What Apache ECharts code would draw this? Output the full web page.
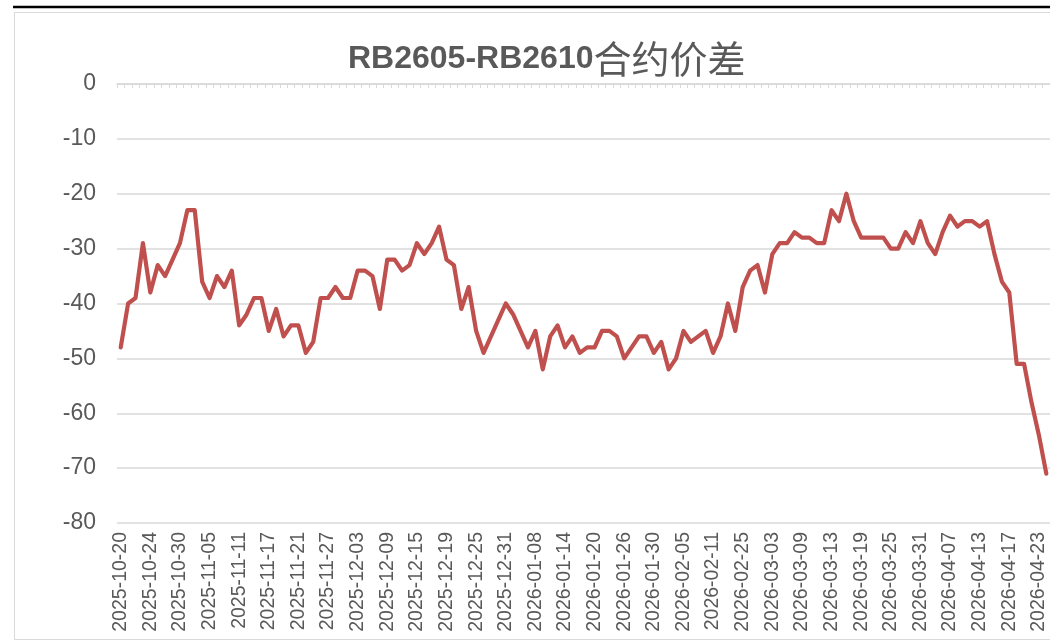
<!DOCTYPE html>
<html>
<head>
<meta charset="utf-8">
<script src="https://cdn.jsdelivr.net/npm/echarts@6/dist/echarts.min.js"></script>
<style>
html,body{margin:0;padding:0;background:#fff;}
#main{width:1050px;height:642px;}
</style>
</head>
<body>
<div id="main"></div>
<script>
const titleLatin = 'RB2605-RB2610';
const titleCJK = '合约价差';

const dates = [
'2025-10-20','2025-10-21','2025-10-22','2025-10-23','2025-10-24','2025-10-27','2025-10-28','2025-10-29','2025-10-30','2025-10-31',
'2025-11-03','2025-11-04','2025-11-05','2025-11-06','2025-11-07','2025-11-10','2025-11-11','2025-11-12','2025-11-13','2025-11-14',
'2025-11-17','2025-11-18','2025-11-19','2025-11-20','2025-11-21','2025-11-24','2025-11-25','2025-11-26','2025-11-27','2025-11-28',
'2025-12-01','2025-12-02','2025-12-03','2025-12-04','2025-12-05','2025-12-08','2025-12-09','2025-12-10','2025-12-11','2025-12-12',
'2025-12-15','2025-12-16','2025-12-17','2025-12-18','2025-12-19','2025-12-22','2025-12-23','2025-12-24','2025-12-25','2025-12-26',
'2025-12-29','2025-12-30','2025-12-31','2026-01-05','2026-01-06','2026-01-07','2026-01-08','2026-01-09','2026-01-12','2026-01-13',
'2026-01-14','2026-01-15','2026-01-16','2026-01-19','2026-01-20','2026-01-21','2026-01-22','2026-01-23','2026-01-26','2026-01-27',
'2026-01-28','2026-01-29','2026-01-30','2026-02-02','2026-02-03','2026-02-04','2026-02-05','2026-02-06','2026-02-09','2026-02-10',
'2026-02-11','2026-02-12','2026-02-13','2026-02-24','2026-02-25','2026-02-26','2026-02-27','2026-03-02','2026-03-03','2026-03-04',
'2026-03-05','2026-03-06','2026-03-09','2026-03-10','2026-03-11','2026-03-12','2026-03-13','2026-03-16','2026-03-17','2026-03-18',
'2026-03-19','2026-03-20','2026-03-23','2026-03-24','2026-03-25','2026-03-26','2026-03-27','2026-03-30','2026-03-31','2026-04-01',
'2026-04-02','2026-04-03','2026-04-07','2026-04-08','2026-04-09','2026-04-10','2026-04-13','2026-04-14','2026-04-15','2026-04-16',
'2026-04-17','2026-04-20','2026-04-21','2026-04-22','2026-04-23','2026-04-24'
];

const spread = [
-48,-40,-39,-29,-38,-33,-35,-32,-29,-23,
-23,-36,-39,-35,-37,-34,-44,-42,-39,-39,
-45,-41,-46,-44,-44,-49,-47,-39,-39,-37,
-39,-39,-34,-34,-35,-41,-32,-32,-34,-33,
-29,-31,-29,-26,-32,-33,-41,-37,-45,-49,
-46,-43,-40,-42,-45,-48,-45,-52,-46,-44,
-48,-46,-49,-48,-48,-45,-45,-46,-50,-48,
-46,-46,-49,-47,-52,-50,-45,-47,-46,-45,
-49,-46,-40,-45,-37,-34,-33,-38,-31,-29,
-29,-27,-28,-28,-29,-29,-23,-25,-20,-25,
-28,-28,-28,-28,-30,-30,-27,-29,-25,-29,
-31,-27,-24,-26,-25,-25,-26,-25,-31,-36,
-38,-51,-51,-58,-64,-71
];

const yMin = -80, yMax = 0, yStep = 10;

const chart = echarts.init(document.getElementById('main'), null, {renderer:'canvas'});
const bandW = 7.45;
const gridLeft = 117, gridTop = 84, gridH = 439;

chart.setOption({
  animation: false,
  backgroundColor: '#ffffff',
  title: {
    text: '{a|' + titleLatin + '}{b|' + titleCJK + '}',
    left: 343,
    top: 35,
    textStyle: {
      rich: {
        a: {fontFamily: 'Liberation Sans', fontWeight: 'bold', fontSize: 32, color: '#595959'},
        b: {fontFamily: 'Noto Sans CJK SC', fontWeight: 'normal', fontSize: 38, color: '#595959'}
      }
    }
  },
  graphic: [
    {type:'rect', silent:true, z:-1, shape:{x:14.5, y:12.5, width:1100, height:627}, style:{fill:'none', stroke:'#d9d9d9', lineWidth:1}},
    {type:'line', silent:true, shape:{x1:13, y1:7, x2:1050, y2:7}, style:{stroke:'#000000', lineWidth:2.5}}
  ],
  grid: {left: gridLeft, top: gridTop, height: gridH, width: bandW * dates.length, containLabel: false},
  xAxis: [
    {
      type: 'category', data: dates, position: 'bottom', boundaryGap: true,
      axisLine: {show: false, onZero: false}, axisTick: {show: false},
      axisLabel: {interval: 3, rotate: 90, margin: 9, fontFamily: 'Liberation Sans', fontSize: 19.5, color: '#595959'},
      splitLine: {show: false}
    },
    {
      type: 'category', data: dates, position: 'top', boundaryGap: true,
      axisLine: {show: true, onZero: false, lineStyle: {color: '#d9d9d9', width: 1.5}},
      axisTick: {show: true, inside: true, interval: 0, length: 4, lineStyle: {color: '#d9d9d9', width: 1}},
      axisLabel: {show: false}, splitLine: {show: false}
    }
  ],
  yAxis: {
    type: 'value', min: yMin, max: yMax, interval: yStep,
    axisLine: {show: false}, axisTick: {show: false},
    axisLabel: {margin: 21, fontFamily: 'Liberation Sans', fontSize: 23, color: '#595959'},
    splitLine: {show: true, lineStyle: {color: '#d9d9d9', width: 1.5}}
  },
  series: [{
    type: 'line', data: spread, xAxisIndex: 0, symbol: 'none', smooth: false,
    lineStyle: {color: '#c0504d', width: 4.2, join: 'round', cap: 'round'},
    clip: false
  }]
});
</script>
</body>
</html>
